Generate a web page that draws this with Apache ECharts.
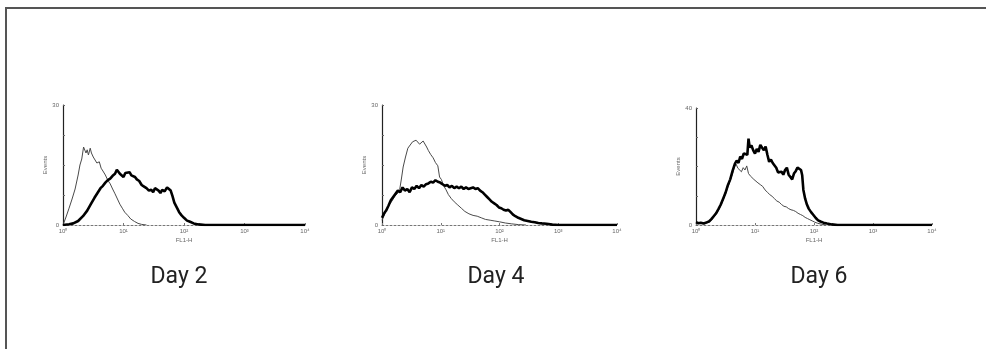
<!DOCTYPE html>
<html>
<head>
<meta charset="utf-8">
<script src="https://cdn.jsdelivr.net/npm/echarts@6/dist/echarts.min.js"></script>
<style>
  html, body { margin: 0; padding: 0; background: #fff; }
  #chart { width: 986px; height: 349px; }
</style>
</head>
<body>
<div id="chart"></div>
<script>
// FL1-H histograms on a 4-decade log scale; x is given in decades (0 = 10^0, 4 = 10^4).
const panelTitles = ['Day 2', 'Day 4', 'Day 6'];
const decadeLabels = ['10\u2070', '10\u00b9', '10\u00b2', '10\u00b3', '10\u2074'];
const yMaxValues = [30, 30, 40];

// Day 2
const day2Control = [
  [0.00,0],[0.05,2.0],[0.10,4.2],[0.15,6.5],[0.20,9.0],[0.25,12.5],[0.28,15.0],[0.31,16.5],
  [0.34,19.5],[0.36,19.0],[0.38,18.0],[0.40,18.8],[0.42,17.5],[0.45,19.2],[0.47,18.0],[0.50,17.0],
  [0.53,16.8],[0.56,15.5],[0.60,15.8],[0.63,14.2],[0.66,13.5],[0.70,12.5],[0.74,11.2],[0.78,10.3],
  [0.82,9.0],[0.86,7.8],[0.90,6.5],[0.94,5.2],[0.98,4.2],[1.02,3.2],[1.07,2.4],[1.12,1.5],
  [1.18,0.9],[1.24,0.4],[1.30,0.15],[1.38,0]
];
const day2Stained = [
  [0.00,0],[0.10,0.2],[0.17,0.4],[0.25,1.0],[0.33,2.2],[0.40,3.6],[0.46,5.2],[0.52,6.8],
  [0.57,8.0],[0.62,9.2],[0.66,9.8],[0.70,10.6],[0.74,11.2],[0.78,11.6],[0.82,12.3],[0.86,12.8],
  [0.89,13.8],[0.91,14.2],[0.94,12.8],[0.97,13.2],[1.00,12.0],[1.03,13.0],[1.06,12.6],[1.10,13.2],
  [1.13,12.4],[1.16,12.8],[1.19,12.0],[1.22,11.4],[1.26,11.0],[1.30,10.0],[1.34,9.6],[1.38,9.2],
  [1.42,8.6],[1.46,8.8],[1.49,8.2],[1.52,9.2],[1.55,9.4],[1.58,8.6],[1.61,8.0],[1.64,8.8],
  [1.68,8.4],[1.72,9.4],[1.75,9.8],[1.78,8.6],[1.81,7.2],[1.84,5.6],[1.88,4.4],[1.92,3.2],
  [1.96,2.4],[2.00,1.8],[2.05,1.1],[2.10,0.8],[2.16,0.4],[2.24,0.15],[2.35,0],[4.00,0]
];

// Day 4
const day4Control = [
  [0.00,1.2],[0.04,2.5],[0.08,4.0],[0.12,5.0],[0.17,6.0],[0.22,7.2],[0.27,8.0],[0.30,8.8],
  [0.33,11.5],[0.36,14.5],[0.40,17.0],[0.44,19.2],[0.48,20.0],[0.52,20.8],[0.55,20.4],[0.58,21.2],
  [0.61,21.0],[0.64,20.2],[0.67,20.4],[0.70,21.0],[0.73,21.4],[0.76,19.5],[0.79,18.6],[0.83,17.6],
  [0.87,16.8],[0.91,15.6],[0.95,14.8],[0.98,12.0],[1.01,11.4],[1.05,9.8],[1.09,8.8],[1.13,7.6],
  [1.18,6.6],[1.23,5.8],[1.29,5.0],[1.35,4.2],[1.41,3.4],[1.48,2.8],[1.55,2.4],[1.62,2.2],
  [1.69,1.8],[1.76,1.4],[1.84,1.2],[1.92,1.0],[2.00,0.8],[2.10,0.5],[2.20,0.3],[2.32,0.1],[2.45,0]
];
const day4Stained = [
  [0.00,1.8],[0.04,3.0],[0.07,3.6],[0.11,4.8],[0.15,6.2],[0.19,7.0],[0.23,7.8],[0.27,8.6],
  [0.31,8.2],[0.35,9.4],[0.39,8.6],[0.43,9.0],[0.47,8.2],[0.51,9.4],[0.55,9.0],[0.59,9.8],
  [0.63,9.2],[0.67,10.0],[0.71,9.6],[0.75,10.2],[0.79,10.4],[0.83,10.8],[0.87,10.6],[0.91,11.2],
  [0.95,10.8],[0.99,10.6],[1.03,10.2],[1.07,9.8],[1.11,10.0],[1.15,9.4],[1.19,9.8],[1.23,9.2],
  [1.27,9.6],[1.31,9.2],[1.35,9.6],[1.39,9.0],[1.43,9.4],[1.47,9.0],[1.51,9.2],[1.55,9.4],
  [1.59,9.0],[1.63,9.2],[1.67,8.6],[1.71,8.2],[1.75,7.6],[1.79,7.0],[1.83,6.4],[1.87,5.8],
  [1.91,5.4],[1.95,5.0],[1.99,4.4],[2.03,4.2],[2.07,3.8],[2.11,3.6],[2.15,3.8],[2.19,3.2],
  [2.23,2.6],[2.27,2.2],[2.32,1.8],[2.37,1.5],[2.42,1.2],[2.48,1.0],[2.54,0.8],[2.60,0.7],
  [2.66,0.5],[2.72,0.4],[2.80,0.3],[2.90,0.1],[3.00,0],[4.00,0]
];

// Day 6
const day6Control = [
  [0.00,1.0],[0.05,0.5],[0.10,0.7],[0.15,0.4],[0.20,0.8],[0.25,1.4],[0.30,2.6],[0.34,3.6],
  [0.38,5.0],[0.42,6.6],[0.46,8.6],[0.50,10.6],[0.54,13.0],[0.58,15.2],[0.62,17.6],[0.65,19.8],
  [0.68,20.8],[0.71,19.4],[0.74,20.0],[0.77,18.2],[0.80,19.6],[0.83,18.8],[0.86,20.2],[0.89,17.6],
  [0.92,16.8],[0.95,17.4],[0.98,15.6],[1.01,15.0],[1.05,14.4],[1.09,13.8],[1.13,13.2],[1.17,12.0],
  [1.21,11.2],[1.25,10.4],[1.29,9.8],[1.33,9.0],[1.37,8.2],[1.41,7.8],[1.45,7.0],[1.49,6.4],
  [1.53,6.2],[1.57,5.6],[1.61,5.2],[1.65,5.0],[1.69,4.6],[1.73,4.0],[1.77,3.6],[1.81,3.2],
  [1.85,2.6],[1.89,2.2],[1.93,1.8],[1.97,1.4],[2.01,1.0],[2.06,0.6],[2.12,0.3],[2.20,0]
];
const day6Stained = [
  [0.00,1.0],[0.04,0.6],[0.08,0.8],[0.13,0.5],[0.18,0.9],[0.22,1.2],[0.26,2.0],[0.30,3.0],
  [0.34,4.0],[0.38,5.4],[0.42,7.0],[0.46,9.0],[0.50,11.0],[0.54,13.6],[0.58,15.6],[0.62,18.5],
  [0.66,21.0],[0.69,22.0],[0.72,21.2],[0.75,23.4],[0.78,22.6],[0.81,24.5],[0.84,25.0],[0.87,24.0],
  [0.89,29.5],[0.91,26.5],[0.94,27.2],[0.97,25.5],[1.00,24.4],[1.03,26.0],[1.06,25.0],[1.09,27.4],
  [1.12,26.4],[1.15,25.6],[1.18,26.8],[1.21,24.0],[1.24,21.6],[1.27,22.4],[1.30,21.2],[1.33,21.6],
  [1.36,19.6],[1.39,18.0],[1.42,17.6],[1.45,18.2],[1.48,17.2],[1.51,18.8],[1.54,19.6],[1.57,17.2],
  [1.60,16.4],[1.63,15.6],[1.66,17.6],[1.69,18.4],[1.72,19.6],[1.75,20.0],[1.78,18.8],[1.80,17.0],
  [1.82,12.0],[1.85,9.0],[1.88,7.0],[1.91,5.6],[1.95,4.4],[1.99,3.4],[2.03,2.4],[2.07,1.6],
  [2.11,1.2],[2.16,0.8],[2.22,0.5],[2.30,0.2],[2.40,0],[4.00,0]
];

const controlSeries = [day2Control, day4Control, day6Control];
const stainedSeries = [day2Stained, day4Stained, day6Stained];

// panel frames in pixels
const panels = [
  { left: 63,  top: 105, width: 242, height: 120, labelX: 179 },
  { left: 382, top: 105, width: 235, height: 120, labelX: 496 },
  { left: 696, top: 108, width: 236, height: 117, labelX: 819 }
];

const tinyFont = { fontFamily: 'Liberation Sans', fontSize: 6, color: '#666' };

const grids = [], xAxes = [], yAxes = [], series = [], graphics = [];
panels.forEach((p, i) => {
  grids.push({ left: p.left, top: p.top, width: p.width, height: p.height, containLabel: false });
  xAxes.push({
    gridIndex: i, type: 'value', min: 0, max: 4, interval: 1,
    name: 'FL1-H', nameLocation: 'middle', nameGap: 12,
    nameTextStyle: tinyFont,
    axisLine: { show: true, lineStyle: { color: '#777', width: 1, type: [2, 2] } },
    axisTick: { show: true, inside: true, length: 2, lineStyle: { color: '#777' } },
    axisLabel: Object.assign({ margin: 3, formatter: v => decadeLabels[Math.round(v)] }, tinyFont),
    splitLine: { show: false }
  });
  const ym = yMaxValues[i];
  yAxes.push({
    gridIndex: i, type: 'value', min: 0, max: ym, interval: ym / 4,
    name: 'Events', nameLocation: 'middle', nameRotate: 90, nameGap: 10,
    nameTextStyle: tinyFont,
    axisLine: { show: true, lineStyle: { color: '#222', width: 1.2 } },
    axisTick: { show: true, inside: true, length: 2, lineStyle: { color: '#666' } },
    axisLabel: Object.assign({ margin: 4, formatter: v => (v === 0 || v === ym) ? String(v) : '' }, tinyFont),
    splitLine: { show: false }
  });
  series.push({
    type: 'line', xAxisIndex: i, yAxisIndex: i, data: controlSeries[i],
    showSymbol: false, symbol: 'none', z: 2,
    lineStyle: { color: '#4a4a4a', width: 1 }
  });
  series.push({
    type: 'line', xAxisIndex: i, yAxisIndex: i, data: stainedSeries[i],
    showSymbol: false, symbol: 'none', z: 3,
    lineStyle: { color: '#000', width: 2.6 }
  });
  graphics.push({
    type: 'text', x: p.labelX, y: 277,
    style: { text: panelTitles[i], font: '23px Roboto', fill: '#222', align: 'center', verticalAlign: 'middle' }
  });
});

// outer frame (top and left rules)
graphics.push({ type: 'line', shape: { x1: 5, y1: 8, x2: 986, y2: 8 }, style: { stroke: '#555', lineWidth: 2 } });
graphics.push({ type: 'line', shape: { x1: 6, y1: 7, x2: 6, y2: 349 }, style: { stroke: '#555', lineWidth: 2 } });

const chart = echarts.init(document.getElementById('chart'), null, { renderer: 'canvas' });
chart.setOption({
  animation: false,
  backgroundColor: '#fff',
  grid: grids, xAxis: xAxes, yAxis: yAxes, series: series,
  graphic: graphics
});
</script>
</body>
</html>
